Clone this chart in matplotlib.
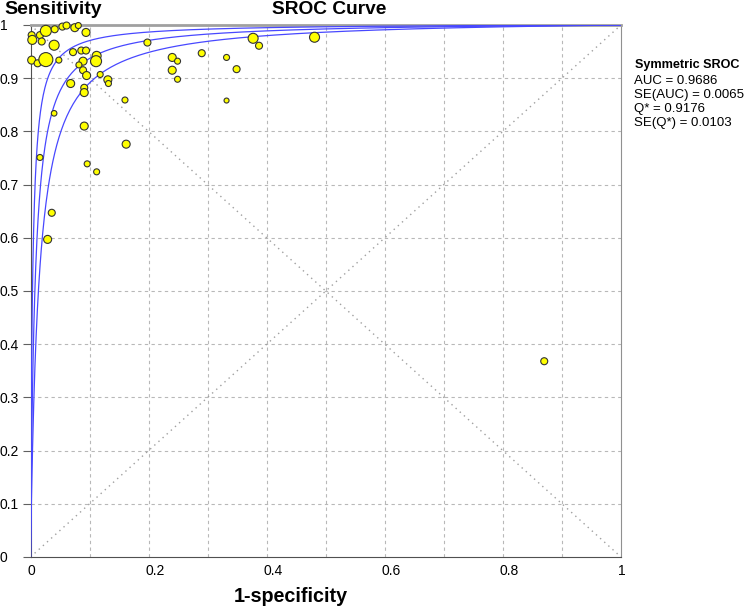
import numpy as np
import matplotlib
matplotlib.use('Agg')
import matplotlib.pyplot as plt
import matplotlib.transforms as mtransforms

plt.rcParams['font.family'] = ['Liberation Sans', 'DejaVu Sans']

# Dữ liệu các nghiên cứu (1-specificity, sensitivity, kích thước điểm)
fpr = [0.002, 0.003, 0.016, 0.019, 0.026, 0.041, 0.054, 0.061, 0.075, 0.081,
       0.094, 0.040, 0.002, 0.012, 0.026, 0.048, 0.072, 0.086, 0.094, 0.112,
       0.111, 0.089, 0.082, 0.089, 0.095, 0.118, 0.068, 0.091, 0.091, 0.131,
       0.132, 0.040, 0.091, 0.160, 0.162, 0.198, 0.240, 0.249, 0.240, 0.249,
       0.290, 0.332, 0.349, 0.332, 0.377, 0.387, 0.481, 0.016, 0.096, 0.112,
       0.036, 0.029, 0.870]
sens = [0.981, 0.972, 0.981, 0.969, 0.989, 0.992, 0.997, 0.999, 0.995, 0.999,
        0.986, 0.962, 0.934, 0.928, 0.935, 0.934, 0.949, 0.952, 0.952, 0.942,
        0.932, 0.932, 0.925, 0.915, 0.905, 0.907, 0.890, 0.882, 0.873, 0.897,
        0.890, 0.834, 0.810, 0.859, 0.776, 0.967, 0.939, 0.932, 0.915, 0.898,
        0.947, 0.939, 0.917, 0.858, 0.975, 0.961, 0.977, 0.751, 0.739, 0.724,
        0.647, 0.597, 0.368]
weight = [3.5, 4.5, 3.5, 3.5, 5.5, 3.5, 3.5, 3.5, 4.0, 3.0,
          4.0, 5.0, 4.0, 3.5, 7.0, 3.0, 3.5, 3.5, 3.5, 4.5,
          5.5, 4.0, 3.0, 3.5, 4.0, 3.0, 4.0, 3.5, 4.0, 4.0,
          3.0, 2.8, 4.0, 3.0, 4.0, 3.5, 4.0, 3.0, 4.0, 3.0,
          3.5, 3.0, 3.5, 2.5, 5.0, 3.5, 5.0, 3.0, 3.0, 3.0,
          3.5, 4.0, 3.5]

# Tham số đường SROC đối xứng (giới hạn trên, đường chính, giới hạn dưới)
sroc_a = [5.7, 4.9, 4.3]

stats_title = 'Symmetric SROC'
stats_lines = ['AUC = 0.9686', 'SE(AUC) = 0.0065', 'Q* = 0.9176', 'SE(Q*) = 0.0103']

W, H = 744, 606
fig = plt.figure(figsize=(W / 100, H / 100), dpi=100)
ax = fig.add_axes([30.5 / W, 1 - 557 / H, 590.5 / W, 532 / H])
ax.set_xlim(0, 1)
ax.set_ylim(0, 1)

# Lưới
for v in np.arange(0.1, 1.0, 0.1):
    ax.axvline(v, color='#b8b8b8', lw=0.8, ls=(0, (3, 3)), zorder=1)
    ax.axhline(v, color='#b8b8b8', lw=0.8, ls=(0, (3, 3)), zorder=1)

# Đường chéo
ax.plot([0, 1], [0, 1], color='#a0a0a0', lw=1, ls=(0, (1, 3)), zorder=2)
ax.plot([0, 1], [1, 0], color='#a0a0a0', lw=1, ls=(0, (1, 3)), zorder=2)

# Đường cong SROC
x = np.concatenate([np.logspace(-8, -1, 400), np.linspace(0.1, 1 - 1e-9, 400)])
for a in sroc_a:
    lx = np.log(x / (1 - x))
    y = 1 / (1 + np.exp(-(a + lx)))
    ax.plot(np.r_[0, x, 1], np.r_[0, y, 1], color='#4848ff', lw=0.9, zorder=3)

# Các nghiên cứu
sizes = [(2 * r * 0.72) ** 2 for r in weight]
ax.scatter(fpr, sens, s=sizes, facecolor='#ffff00', edgecolor='#333333',
           linewidths=0.8, zorder=4, clip_on=False)

# Trục
ax.spines['left'].set_color('#505050')
ax.spines['bottom'].set_color('#505050')
ax.spines['top'].set_color('#a0a0a0')
ax.spines['top'].set_linewidth(2)
ax.spines['right'].set_color('#909090')

ax.set_xticks(np.round(np.arange(0, 1.01, 0.1), 1))
ax.set_xticklabels(['0', '', '0.2', '', '0.4', '', '0.6', '', '0.8', '', '1'])
ax.tick_params(axis='x', length=0, pad=5, labelsize=10)
offset = mtransforms.ScaledTranslation(-3 / 100, 0, fig.dpi_scale_trans)
for lab in ax.get_xticklabels():
    lab.set_horizontalalignment('left')
    lab.set_transform(lab.get_transform() + offset)

ax.set_yticks(np.round(np.arange(0, 1.01, 0.1), 1))
ax.set_yticklabels(['0'] + ['%.1f' % v for v in np.arange(0.1, 0.95, 0.1)] + ['1'])
ax.tick_params(axis='y', length=6, color='#606060', pad=16, labelsize=10)
for lab in ax.get_yticklabels():
    lab.set_horizontalalignment('left')

# Tiêu đề
fig.text(4 / W, 1 - 9 / H, 'Sensitivity', fontsize=14, fontweight='bold',
         ha='left', va='center')
fig.text(329 / W, 1 - 9 / H, 'SROC Curve', fontsize=13.8, fontweight='bold',
         ha='center', va='center')
fig.text(291 / W, 1 - 596 / H, '1-specificity', fontsize=14.2, fontweight='bold',
         ha='center', va='center')

# Thống kê
fig.text(635 / W, 1 - 65 / H, stats_title, fontsize=9.1, fontweight='bold',
         ha='left', va='center')
for i, s in enumerate(stats_lines):
    fig.text(634 / W, 1 - (81 + 14 * i) / H, s, fontsize=9.5, ha='left', va='center')

fig.savefig('out.png', dpi=100, facecolor='white')
